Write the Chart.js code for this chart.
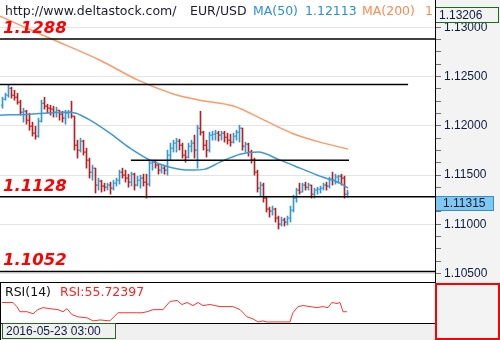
<!DOCTYPE html>
<html>
<head>
<meta charset="utf-8">
<script src="https://cdn.jsdelivr.net/npm/chart.js@4.4.1/dist/chart.umd.min.js"></script>
<style>
  body { margin: 0; width: 500px; height: 340px; position: relative; overflow: hidden; background: #fff; font-family: "DejaVu Sans", sans-serif; }
  .abs { position: absolute; }
  .hdr { position: absolute; top: 4px; font-size: 12.5px; line-height: 14px; white-space: nowrap; color: #1c1c2c; }
  .lvl { position: absolute; left: 3px; font: italic bold 16.5px/16.5px "DejaVu Sans", sans-serif; color: #ff0000; }
</style>
</head>
<body>
<div class="abs" style="left:436px;top:0;width:64px;height:283px;background:#f3f3f3"></div>
<canvas id="main" class="abs" width="500" height="283" style="left:0;top:0"></canvas>
<canvas id="rsi" class="abs" width="436" height="40" style="left:0;top:283px"></canvas>

<div class="abs" style="left:0;top:0;width:434px;height:20px;overflow:hidden">
  <div class="hdr" style="left:5px">http://www.deltastock.com/</div>
  <div class="hdr" style="left:190px">EUR/USD</div>
  <div class="hdr" style="left:253px;color:#2b8fd9">MA(50)</div>
  <div class="hdr" style="left:305px;color:#2b8fd9">1.12113</div>
  <div class="hdr" style="left:362px;color:#ff8a50">MA(200)</div>
  <div class="hdr" style="left:425px;color:#ff8a50">1.13102</div>
</div>

<div class="lvl" style="top:20px">1.1288</div>
<div class="lvl" style="top:178px">1.1128</div>
<div class="lvl" style="top:252px">1.1052</div>

<div class="abs" style="left:435px;top:0;width:1px;height:340px;background:#000"></div>
<div class="abs" style="left:0;top:282px;width:435px;height:1px;background:#000"></div>
<div class="abs" style="left:0;top:282px;width:1px;height:58px;background:#000"></div>
<div class="abs" style="left:5px;top:285px;font-size:12.5px;line-height:14px;white-space:nowrap;color:#111">RSI(14)</div>
<div class="abs" style="left:60px;top:285px;font-size:12.5px;line-height:14px;white-space:nowrap;color:#ff2020">RSI:55.72397</div>

<div class="abs" style="left:1px;top:323px;width:434px;height:17px;background:#f0f0f0;border-top:1px solid #000"></div>
<div class="abs" style="left:2px;top:323px;width:114px;height:16px;box-sizing:border-box;border:1px solid #1e6b1e;font:12px/14px 'Liberation Sans',sans-serif;padding-left:3px;color:#0f1d3d">2016-05-23 03:00</div>
<div class="abs" style="left:435px;top:283px;width:65px;height:57px;box-sizing:border-box;border:2px solid #ff0000;background:#f3f3f3"></div>

<script>
// EUR/USD bars, price values
const firstOpen = 1.12209;
const barHigh = [
  1.12290,1.12331,1.12412,1.12392,1.12361,1.12331,1.12260,1.12179,1.12158,1.12128,
  1.12037,1.11996,1.12078,1.12260,1.12290,1.12219,1.12209,1.12199,1.12189,1.12158,
  1.12148,1.12158,1.12158,1.12250,1.12098,1.11854,1.11874,1.11854,1.11773,1.11672,
  1.11601,1.11570,1.11469,1.11448,1.11418,1.11418,1.11428,1.11448,1.11469,1.11550,
  1.11570,1.11550,1.11509,1.11529,1.11519,1.11489,1.11499,1.11509,1.11509,1.11651,
  1.11651,1.11651,1.11611,1.11601,1.11590,1.11753,1.11824,1.11854,1.11874,1.11864,
  1.11824,1.11753,1.11824,1.11854,1.11905,1.12006,1.12148,1.11945,1.11854,1.11935,
  1.11945,1.11955,1.11945,1.11945,1.11945,1.11925,1.11915,1.11925,1.11955,1.12006,
  1.11976,1.11834,1.11824,1.11753,1.11672,1.11550,1.11428,1.11418,1.11286,1.11174,
  1.11185,1.11164,1.11083,1.11073,1.11063,1.11083,1.11185,1.11296,1.11367,1.11418,
  1.11418,1.11428,1.11418,1.11398,1.11367,1.11377,1.11388,1.11418,1.11428,1.11479,
  1.11529,1.11509,1.11499,1.11509,1.11489,1.11347
];
const barLow = [
  1.12179,1.12260,1.12290,1.12280,1.12260,1.12219,1.12108,1.12037,1.12016,1.11955,
  1.11895,1.11864,1.11884,1.12037,1.12169,1.12128,1.12108,1.12088,1.12088,1.12057,
  1.12037,1.12016,1.12078,1.12078,1.11753,1.11672,1.11733,1.11702,1.11570,1.11469,
  1.11448,1.11317,1.11347,1.11327,1.11337,1.11347,1.11306,1.11347,1.11388,1.11408,
  1.11469,1.11428,1.11377,1.11388,1.11347,1.11388,1.11367,1.11388,1.11266,1.11388,
  1.11550,1.11570,1.11509,1.11519,1.11509,1.11499,1.11651,1.11733,1.11733,1.11753,
  1.11672,1.11631,1.11672,1.11733,1.11672,1.11570,1.11905,1.11753,1.11682,1.11733,
  1.11854,1.11854,1.11844,1.11854,1.11834,1.11814,1.11793,1.11824,1.11854,1.11834,
  1.11753,1.11733,1.11692,1.11621,1.11499,1.11327,1.11286,1.11225,1.11124,1.11073,
  1.11093,1.11022,1.10952,1.10982,1.10982,1.10992,1.11022,1.11124,1.11225,1.11306,
  1.11327,1.11347,1.11347,1.11266,1.11266,1.11306,1.11317,1.11347,1.11347,1.11367,
  1.11398,1.11408,1.11418,1.11398,1.11266,1.11276
];
const barClose = [
  1.12270,1.12311,1.12381,1.12311,1.12290,1.12240,1.12138,1.12148,1.12057,1.11996,
  1.11925,1.11895,1.12047,1.12229,1.12199,1.12179,1.12169,1.12138,1.12158,1.12118,
  1.12078,1.12128,1.12138,1.12098,1.11803,1.11753,1.11844,1.11733,1.11651,1.11529,
  1.11570,1.11398,1.11438,1.11388,1.11377,1.11398,1.11367,1.11418,1.11448,1.11529,
  1.11499,1.11469,1.11428,1.11509,1.11398,1.11448,1.11469,1.11428,1.11408,1.11621,
  1.11631,1.11601,1.11550,1.11570,1.11550,1.11702,1.11773,1.11824,1.11844,1.11803,
  1.11702,1.11682,1.11793,1.11824,1.11753,1.11976,1.11935,1.11803,1.11753,1.11905,
  1.11915,1.11925,1.11905,1.11925,1.11884,1.11854,1.11834,1.11895,1.11935,1.11976,
  1.11793,1.11814,1.11733,1.11651,1.11529,1.11367,1.11398,1.11266,1.11154,1.11134,
  1.11154,1.11063,1.11002,1.11043,1.11022,1.11063,1.11144,1.11266,1.11347,1.11327,
  1.11398,1.11377,1.11398,1.11306,1.11347,1.11357,1.11367,1.11398,1.11388,1.11458,
  1.11448,1.11479,1.11489,1.11469,1.11306,1.11315
];

// moving averages (bar index, price)
const ma50Idx = [-0.83, 9.2, 21.5, 24.5, 29.2, 35.8, 42.5, 49.2, 55.8, 62.5, 67.5, 72.5, 79.2, 85.2, 92.5, 99.2, 105.8, 112.5, 115.2];
const ma50Val = [1.12108, 1.12118, 1.12138, 1.12128, 1.12057, 1.11925, 1.11773, 1.11651, 1.11580, 1.11550, 1.11560, 1.11631, 1.11712, 1.11733, 1.11651, 1.11570, 1.11489, 1.11418, 1.11367];
const ma200Idx = [-0.83, 15.8, 32.5, 45.2, 57.2, 65.8, 77.2, 87.2, 96.5, 105.8, 115.2];
const ma200Val = [1.13112, 1.12889, 1.12665, 1.12463, 1.12321, 1.12260, 1.12199, 1.12057, 1.11925, 1.11834, 1.11763];

// drawn support / resistance lines
const levelPrice = [1.1288, 1.1242, 1.1165, 1.1128, 1.1052];
const levelFrom  = [-0.83, -0.83, 42.8, -0.83, -0.83];
const levelTo    = [144.5, 135.2, 115.5, 144.5, 144.5];

// RSI(14)
const rsiIdx = [-0.2,1.5,3.5,4.8,5.8,8.2,10.2,11.8,13.5,15.8,18.5,20.2,21.5,23.2,25.2,28.2,30.2,32.5,35.8,38.5,
  40.2,42.5,44.8,46.5,48.2,50.2,53.5,55.8,58.2,59.8,61.5,63.5,65.2,66.8,69.2,72.5,76.8,79.2,81.5,83.5,
  85.2,86.8,88.2,90.2,93.5,95.8,96.8,98.5,100.2,102.5,104.8,106.8,108.5,109.8,111.5,112.5,113.5,114.8];
const rsiVal = [55.7,55.6,55.6,50.5,44.1,44.1,41.5,46.7,49.2,47.9,46.7,44.1,47.9,40.3,37.7,36.4,32.6,33.8,32.6,42.8,
  42.8,42.8,42.8,42.8,44.1,46.7,46.7,56.9,58.2,53.1,55.6,51.8,55.6,51.8,53.1,50.5,50.5,46.7,37.7,35.1,
  31.3,32.6,31.3,31.3,31.3,31.3,42.8,50.5,51.8,50.5,49.2,50.5,49.2,55.6,54.4,55.6,44.1,44.1];

// axis
const priceMin = 1.10404;
const priceMax = 1.13206;
const priceLabels = [1.105, 1.11, 1.115, 1.12, 1.125, 1.13];
const xMin = -2.5 / 3;
const xMax = 433.5 / 3;

const UP = '#3399cc';
const DOWN = '#b22222';

const barOpen = barClose.map((c, i) => i === 0 ? firstOpen : barClose[i - 1]);
const barColor = barClose.map((c, i) => c >= barOpen[i] ? UP : DOWN);

function isLabelTick(v) {
  return priceLabels.some(p => Math.abs(p - v) < 1e-7);
}
const axisTicks = [];
for (let k = 0; k <= 21; k++) axisTicks.push(Math.round((1.105 + k * 0.00125) * 1e5) / 1e5);

const priceBoxes = {
  id: 'priceBoxes',
  afterDraw(chart) {
    const ctx = chart.ctx;
    const y = chart.scales.y;
    ctx.save();
    ctx.font = '12px "Liberation Sans"';
    ctx.textBaseline = 'middle';
    ctx.lineWidth = 1;
    // top value box
    const ty = Math.round(y.getPixelForValue(y.max));
    ctx.fillStyle = '#f3f3f3';
    ctx.fillRect(436, ty, 63, 16);
    ctx.strokeStyle = '#1e6b1e';
    ctx.strokeRect(435.5, ty + 0.5, 63, 15);
    ctx.fillStyle = '#0f1d3d';
    ctx.fillText(y.max.toFixed(5), 439, ty + 8.5);
    // last price box
    const last = barClose[barClose.length - 1];
    const ly = Math.round(y.getPixelForValue(last)) + 3;
    ctx.fillStyle = '#7fc8ef';
    ctx.fillRect(436, ly, 58, 15);
    ctx.strokeStyle = '#3b8dc9';
    ctx.strokeRect(435.5, ly + 0.5, 58, 14);
    ctx.fillStyle = '#0f1d3d';
    ctx.fillText(last.toFixed(5), 443, ly + 8);
    ctx.restore();
  }
};

const datasets = [];
levelPrice.forEach((p, k) => {
  datasets.push({
    type: 'line', order: 0,
    data: [{x: levelFrom[k], y: p}, {x: levelTo[k], y: p}],
    borderColor: '#000', borderWidth: 1.5, pointRadius: 0
  });
});
datasets.push({
  type: 'line', order: 1,
  data: ma50Idx.map((x, i) => ({x: x, y: ma50Val[i]})),
  borderColor: '#3a9ad9', borderWidth: 1.5, pointRadius: 0,
  cubicInterpolationMode: 'monotone'
});
datasets.push({
  type: 'line', order: 1,
  data: ma200Idx.map((x, i) => ({x: x, y: ma200Val[i]})),
  borderColor: '#ff9a66', borderWidth: 1.5, pointRadius: 0,
  cubicInterpolationMode: 'monotone'
});
// open ticks (left) and close ticks (right)
datasets.push({
  type: 'line', order: 2, showLine: false,
  data: barOpen.map((v, i) => ({x: i, y: v})),
  pointStyle: 'dash', pointRotation: 180, pointRadius: 1.5, pointBorderWidth: 1,
  pointBorderColor: barColor, pointBackgroundColor: barColor
});
datasets.push({
  type: 'line', order: 2, showLine: false,
  data: barClose.map((v, i) => ({x: i, y: v})),
  pointStyle: 'dash', pointRotation: 0, pointRadius: 1.5, pointBorderWidth: 1,
  pointBorderColor: barColor, pointBackgroundColor: barColor
});
// high-low range
datasets.push({
  type: 'bar', order: 3,
  data: barHigh.map((h, i) => ({x: i, y: [barLow[i], h]})),
  backgroundColor: barColor, borderWidth: 0, barThickness: 1
});

new Chart(document.getElementById('main'), {
  type: 'bar',
  data: { datasets: datasets },
  plugins: [priceBoxes],
  options: {
    responsive: false,
    animation: false,
    events: [],
    layout: { autoPadding: false, padding: { top: 7, left: 0, right: 0, bottom: 0 } },
    plugins: { legend: { display: false }, tooltip: { enabled: false } },
    scales: {
      x: { type: 'linear', min: xMin, max: xMax, display: false, offset: false },
      y: {
        position: 'right', min: priceMin, max: priceMax,
        afterBuildTicks: s => { s.ticks = axisTicks.map(v => ({ value: v })); },
        afterFit: s => { s.width = 64; s.paddingTop = 0; s.paddingBottom = 0; },
        border: { display: false },
        grid: {
          color: c => (c.tick && isLabelTick(c.tick.value)) ? '#e4e4e4' : 'rgba(0,0,0,0)',
          tickColor: '#707070', tickLength: 5, drawTicks: true
        },
        ticks: {
          autoSkip: false, padding: 3, color: '#0f1d3d',
          font: { family: 'Liberation Sans', size: 12 },
          callback: v => isLabelTick(v) ? v.toFixed(5) : ''
        }
      }
    }
  }
});

new Chart(document.getElementById('rsi'), {
  type: 'line',
  data: {
    datasets: [{
      data: rsiIdx.map((x, i) => ({x: x, y: rsiVal[i]})),
      borderColor: '#ff3030', borderWidth: 1, pointRadius: 0, tension: 0
    }]
  },
  options: {
    responsive: false,
    animation: false,
    events: [],
    layout: { autoPadding: false, padding: 0 },
    plugins: { legend: { display: false }, tooltip: { enabled: false } },
    scales: {
      x: { type: 'linear', min: xMin, max: xMax, display: false },
      y: { min: 30, max: 80, display: false }
    }
  }
});
</script>
</body>
</html>
